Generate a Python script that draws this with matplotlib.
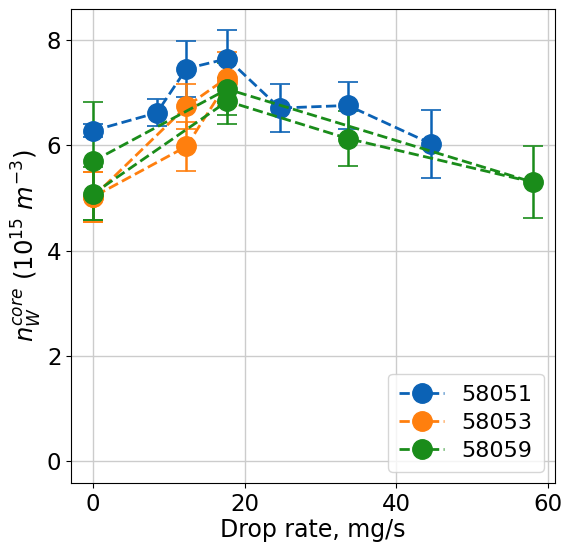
import matplotlib
matplotlib.use('Agg')
import matplotlib.pyplot as plt

# shot 58051
x_58051 = [0.0, 8.4, 12.3, 17.7, 24.6, 33.6, 44.6]
y_58051 = [6.28, 6.62, 7.46, 7.65, 6.71, 6.76, 6.03]
e_58051 = [0.12, 0.26, 0.53, 0.54, 0.45, 0.45, 0.65]

# shot 58053 (points in acquisition order)
x_58053 = [0.0, 12.3, 17.7, 17.7, 12.3, 0.0]
y_58053 = [5.02, 6.74, 7.29, 7.20, 5.98, 5.02]
e_58053 = [0.47, 0.42, 0.48, 0.45, 0.47, 0.47]

# shot 58059
x_58059 = [0.0, 17.7, 58.0, 33.6, 17.7, 0.0]
y_58059 = [5.70, 7.07, 5.30, 6.13, 6.84, 5.08]
e_58059 = [1.12, 0.50, 0.68, 0.52, 0.44, 0.50]

series = [
    ("58051", x_58051, y_58051, e_58051, "#0b62b5"),
    ("58053", x_58053, y_58053, e_58053, "#ff7f0e"),
    ("58059", x_58059, y_58059, e_58059, "#1a8c1a"),
]

fig = plt.figure(figsize=(5.65, 5.45), dpi=100)
ax = fig.add_axes([0.126, 0.114, 0.856, 0.870])

handles = []
for label, xs, ys, es, col in series:
    c = ax.errorbar(xs, ys, yerr=es, fmt='o--', color=col, ecolor=col,
                    markersize=14, linewidth=2, elinewidth=1.8, capsize=7,
                    capthick=1.2, label=label)
    handles.append(c.lines[0])

ax.set_xlim(-2.9, 60.9)
ax.set_ylim(-0.42, 8.6)
ax.set_xticks([0, 20, 40, 60])
ax.set_yticks([0, 2, 4, 6, 8])
ax.tick_params(labelsize=16.5)
ax.grid(True, color='#cccccc', linewidth=1)
ax.set_axisbelow(True)

ax.set_xlabel("Drop rate, mg/s", fontsize=17, labelpad=2)
ax.set_ylabel(r"$n_W^{core}\ (10^{15}\ m^{-3})$", fontsize=17.5, labelpad=2)

ax.legend(handles, [s[0] for s in series], loc='lower right', fontsize=16,
          borderpad=0.5, labelspacing=0.35, handlelength=2.0)

fig.savefig("out.png", dpi=100)
